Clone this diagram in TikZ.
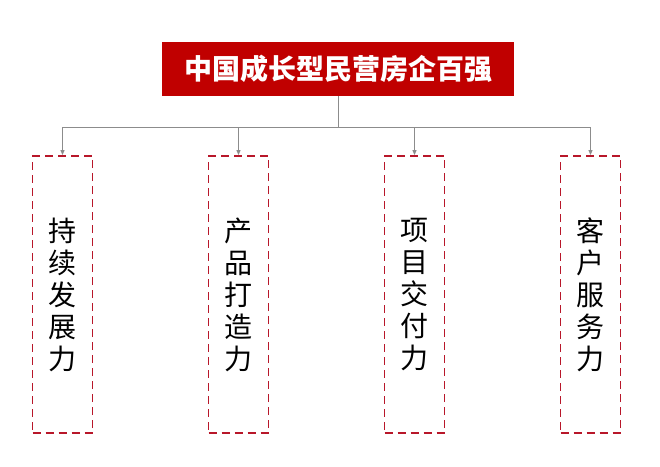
\documentclass[tikz,border=0pt]{standalone}
\usepackage{fontspec}
\setmainfont{Noto Sans CJK SC}
\usetikzlibrary{positioning,arrows.meta}
\definecolor{titlered}{HTML}{C00000}
\definecolor{boxred}{HTML}{B8172A}
\definecolor{linegray}{HTML}{8C8C8C}

\begin{document}
\begin{tikzpicture}[x=1pt,y=-1pt]
        \tikzset{title/.style={fill=titlered,text=white,inner sep=0pt,
                minimum width=352pt,minimum height=54pt,
                font=\fontsize{28}{28}\selectfont\bfseries},
            ability/.style={draw=boxred,line width=1.8pt,dash pattern=on 8pt off 5pt,
                minimum width=60pt,minimum height=277pt,inner sep=0pt,align=center,
                font=\fontsize{28}{32}\selectfont},
            link/.style={draw=linegray,line width=1pt},
            arrow/.style={link,-{Triangle[length=5pt,width=4pt]}}}
        \useasboundingbox (0,0) rectangle (660,466);
        \node[title] (top) at (338,69) {中国成长型民营房企百强};
        \node[ability] (sustain) at (62.5,294.5) {持\\续\\发\\展\\力};
        \node[ability] (product) at (238.5,294.5) {产\\品\\打\\造\\力};
        \node[ability] (deliver) at (414.5,294.5) {项\\目\\交\\付\\力};
        \node[ability] (service) at (590.5,294.5) {客\\户\\服\\务\\力};
        \coordinate (bus) at (338,127);
        \draw[link] (top.south) -- (bus);
        \draw[link] (sustain.north |- bus) -- (service.north |- bus);
        \draw[arrow] (sustain.north |- bus) -- (sustain.north);
        \draw[arrow] (product.north |- bus) -- (product.north);
        \draw[arrow] (deliver.north |- bus) -- (deliver.north);
        \draw[arrow] (service.north |- bus) -- (service.north);
    \end{tikzpicture}
\end{document}
